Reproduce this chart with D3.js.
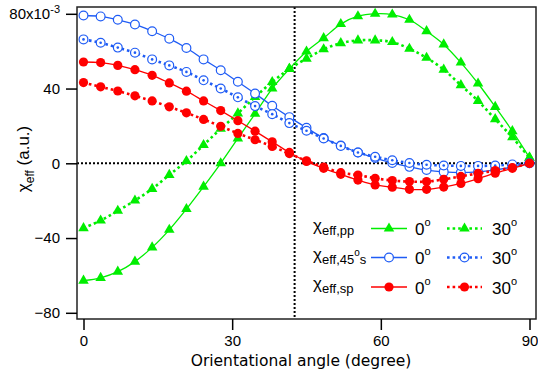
<!DOCTYPE html>
<html>
<head>
<meta charset="utf-8">
<script src="https://cdn.jsdelivr.net/npm/d3@7/dist/d3.min.js"></script>
<style>
  body { margin: 0; background: #fff; }
  svg { display: block; }
</style>
</head>
<body>
<svg id="chart" width="538" height="381"></svg>
<script>
// ---- data ----
const angles = [0, 3.46, 6.92, 10.38, 13.85, 17.31, 20.77, 24.23, 27.69, 31.15, 34.62, 38.08, 41.54, 45,
  48.46, 51.92, 55.38, 58.85, 62.31, 65.77, 69.23, 72.69, 76.15, 79.62, 83.08, 86.54, 90];

const ppTilt0 = [-62.8, -61.3, -58, -52.6, -45, -35.6, -24.5, -12.5, 0, 13.3, 26.5, 40, 50.5, 59.8,
  67, 74.5, 78.7, 80, 79.6, 76.8, 70.7, 63.6, 53.9, 42.7, 30.2, 17.2, 3];
const ppTilt30 = [-34.7, -30.6, -25.4, -19.9, -13.7, -6.2, 1.2, 9.8, 18.5, 26.7, 35.5, 43.5, 50.5, 56,
  61, 64.3, 65.8, 65.8, 64.9, 61.3, 56.5, 50.1, 41.8, 33.4, 23.6, 13.9, 3];
const s45Tilt0 = [79.1, 78.6, 76.8, 74.3, 70.7, 66.7, 61.7, 55.6, 49.8, 43.6, 37.3, 30.8, 24.7, 19,
  13.5, 9.5, 5.8, 2.8, 0.2, -1.9, -3.6, -4.6, -5, -4.6, -3.5, -2, 0];
const s45Tilt30 = [66.3, 64.5, 61.9, 59.2, 55.6, 52.4, 48.9, 44.4, 40, 35.3, 30.6, 26.3, 21.5, 17.4,
  13.3, 9.3, 5.8, 3.5, 1.6, 0.2, -0.8, -1.2, -1.4, -1.4, -1.2, -0.6, 0];
const spTilt0 = [54.2, 53.9, 52.4, 50.1, 47.1, 43, 38.6, 33.4, 28.2, 22.8, 17.2, 11.5, 5.8, 1,
  -2.7, -5.9, -9, -11.6, -12.8, -13.9, -13.9, -12.7, -10.8, -8.2, -5.3, -2.7, 0];
const spTilt30 = [43.2, 40.9, 38.7, 36.1, 33.4, 30.2, 27, 23.5, 19.8, 16, 12.6, 9, 5.2, 1.3,
  -2, -5, -6.3, -8, -9.2, -9.8, -9.8, -8.6, -7, -5.4, -3.9, -2.3, 0];

const xTicks = [0, 30, 60, 90];
const yTicks = [-80, -40, 0, 40, 80];
const criticalAngle = 42.6;

const GREEN = '#00ee00', BLUE = '#1f5cf5', RED = '#ff0000';

// draw order: green, blue, red
const series = [
  { values: ppTilt0,   color: GREEN, marker: 'triangle', dotted: false },
  { values: ppTilt30,  color: GREEN, marker: 'triangle', dotted: true },
  { values: s45Tilt0,  color: BLUE,  marker: 'open',     dotted: false },
  { values: s45Tilt30, color: BLUE,  marker: 'opendot',  dotted: true },
  { values: spTilt0,   color: RED,   marker: 'filled',   dotted: false },
  { values: spTilt30,  color: RED,   marker: 'filled',   dotted: true }
];

// ---- layout ----
const frame = { left: 77, top: 7, right: 536, bottom: 319 };
const svg = d3.select('#chart');

const x = d3.scaleLinear().domain([0, 90]).range([83.5, 529.5]);
const y = d3.scaleLinear().domain([-80, 80]).range([312.8, 13.8]);

// reference lines
svg.append('line')
  .attr('x1', frame.left).attr('x2', frame.right)
  .attr('y1', y(0)).attr('y2', y(0))
  .attr('stroke', '#000').attr('stroke-width', 2).attr('stroke-dasharray', '2,2');
svg.append('line')
  .attr('x1', x(criticalAngle)).attr('x2', x(criticalAngle))
  .attr('y1', frame.top).attr('y2', frame.bottom)
  .attr('stroke', '#000').attr('stroke-width', 2).attr('stroke-dasharray', '2,2');

// ---- series ----
const line = d3.line()
  .x((d, i) => x(angles[i]))
  .y(d => y(d))
  .curve(d3.curveCatmullRom);

const triangle = d3.symbol(d3.symbolTriangle, 48)();

function addMarker(g, type, color) {
  if (type === 'triangle') {
    g.append('path').attr('d', triangle).attr('fill', color);
  } else if (type === 'filled') {
    g.append('circle').attr('r', 4.6).attr('fill', color);
  } else {
    g.append('circle').attr('r', 4.4).attr('fill', '#fff')
      .attr('stroke', color).attr('stroke-width', 1.2);
    if (type === 'opendot') {
      g.append('circle').attr('r', 1.3).attr('fill', color);
    }
  }
}

const plot = svg.append('g').attr('class', 'plot');

series.forEach(s => {
  plot.append('path')
    .datum(s.values)
    .attr('d', line)
    .attr('fill', 'none')
    .attr('stroke', s.color)
    .attr('stroke-width', s.dotted ? 2.6 : 1.3)
    .attr('stroke-dasharray', s.dotted ? '2.6,3' : null);

  plot.append('g')
    .selectAll('g')
    .data(s.values)
    .join('g')
    .attr('transform', (d, i) => `translate(${x(angles[i])},${y(d)})`)
    .each(function () { addMarker(d3.select(this), s.marker, s.color); });
});

// ---- frame & axes ----
svg.append('rect')
  .attr('x', frame.left).attr('y', frame.top)
  .attr('width', frame.right - frame.left).attr('height', frame.bottom - frame.top)
  .attr('fill', 'none').attr('stroke', '#222').attr('stroke-width', 1.5);

const yAxis = svg.append('g')
  .attr('transform', `translate(${frame.left},0)`)
  .call(d3.axisLeft(y).tickValues(yTicks).tickSize(11).tickPadding(6).tickFormat(d3.format('d')));

const xAxis = svg.append('g')
  .attr('transform', `translate(0,${frame.bottom})`)
  .call(d3.axisBottom(x).tickValues(xTicks).tickSize(11).tickPadding(5));

[yAxis, xAxis].forEach(a => {
  a.select('.domain').remove();
  a.selectAll('.tick line').attr('stroke', '#000').attr('stroke-width', 1.5);
  a.selectAll('.tick text')
    .attr('fill', '#000')
    .style('font-family', '"Liberation Sans", Arial, sans-serif')
    .style('font-size', '15px');
});
yAxis.selectAll('.tick text').text(d => d === 80 ? '' : d3.format('d')(d));

// the 80x10^-3 label
const topLabel = yAxis.selectAll('.tick text').filter(d => d === 80);
topLabel.append('tspan').text('80x10');
topLabel.append('tspan').text('-3').attr('dy', '-0.55em').style('font-size', '11px');

// x title
svg.append('text')
  .attr('x', 301)
  .attr('y', 366)
  .attr('text-anchor', 'middle')
  .style('font-family', '"DejaVu Sans", Verdana, sans-serif')
  .style('font-size', '15.5px')
  .text('Orientational angle (degree)');

// y title
const yTitle = svg.append('text')
  .attr('transform', 'translate(29,159) rotate(-90)')
  .attr('text-anchor', 'middle')
  .style('font-family', '"Liberation Sans", Arial, sans-serif')
  .style('font-size', '17px');
yTitle.append('tspan').text('χ');
yTitle.append('tspan').text('eff').attr('dy', 5).style('font-size', '12px');
yTitle.append('tspan').text(' (a.u.)').attr('dy', -5);

// ---- legend ----
const legendRows = [
  { y: 228.5, main: 'eff,pp', sup: null, tail: null, a: series[0], b: series[1] },
  { y: 257.5, main: 'eff,45', sup: 'o', tail: 's', a: series[2], b: series[3] },
  { y: 287,   main: 'eff,sp', sup: null, tail: null, a: series[4], b: series[5] }
];
const legendTexts = ['0', '30'];
const legend = svg.append('g')
  .style('font-family', '"Liberation Sans", Arial, sans-serif');

legendRows.forEach(r => {
  const t = legend.append('text').attr('x', 313).attr('y', r.y + 2).style('font-size', '17px');
  t.append('tspan').text('χ');
  t.append('tspan').text(r.main).attr('dy', 4).style('font-size', '13px');
  if (r.sup) {
    t.append('tspan').text(r.sup).attr('dy', -8).style('font-size', '10px');
    t.append('tspan').text(r.tail).attr('dy', 8).style('font-size', '13px');
  }

  [[r.a, 371, 407, 415, legendTexts[0]], [r.b, 447, 482, 492, legendTexts[1]]].forEach(([s, x1, x2, tx, label]) => {
    legend.append('line')
      .attr('x1', x1).attr('x2', x2).attr('y1', r.y).attr('y2', r.y)
      .attr('stroke', s.color)
      .attr('stroke-width', s.dotted ? 2.6 : 1.3)
      .attr('stroke-dasharray', s.dotted ? '2.6,3' : null);
    const m = legend.append('g').attr('transform', `translate(${(x1 + x2) / 2},${r.y})`);
    addMarker(m, s.marker, s.color);
    const lt = legend.append('text').attr('x', tx).attr('y', r.y + 6.5).style('font-size', '17px');
    lt.append('tspan').text(label);
    lt.append('tspan').text('o').attr('dy', -9).style('font-size', '11px');
  });
});
</script>
</body>
</html>
